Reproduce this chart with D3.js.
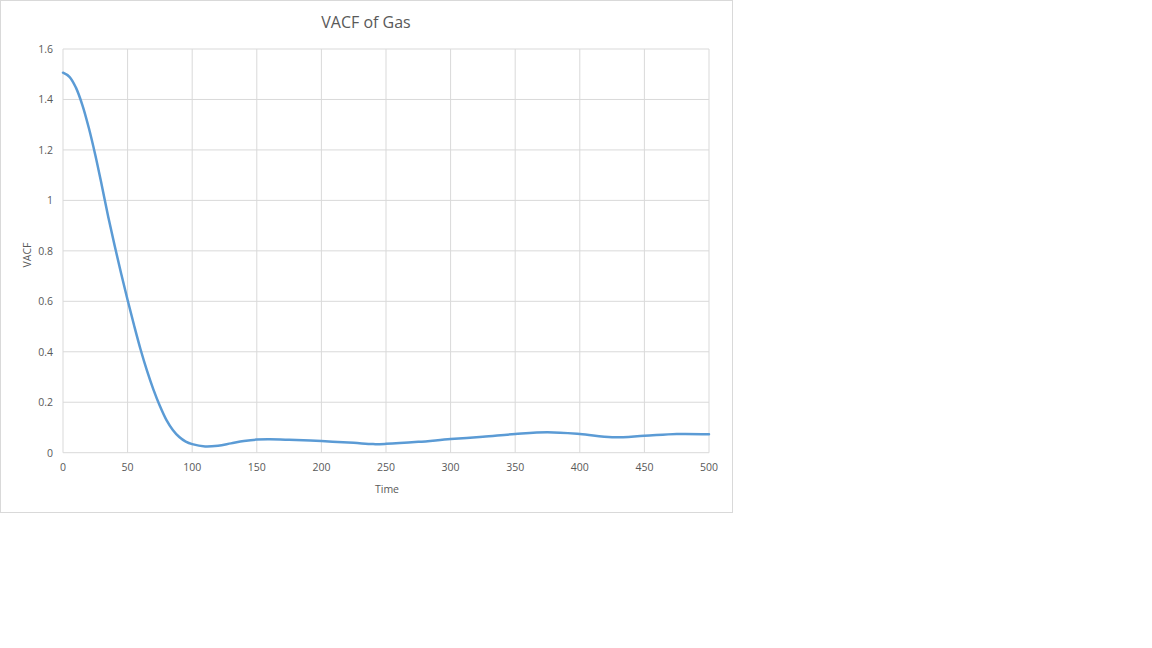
<!DOCTYPE html>
<html><head><meta charset="utf-8">
<script src="https://cdn.jsdelivr.net/npm/d3@7"></script>
<style>body{margin:0;background:#fff;} text{font-family:"Open Sans","Liberation Sans","DejaVu Sans",sans-serif;}</style>
</head><body><svg id="c" width="1152" height="648"></svg>
<script>
const time = [0,5,10,15,20,25,30,35,40,45,50,55,60,65,70,75,80,85,90,95,100,110,120,130,140,150,160,175,200,225,240,250,275,300,325,350,375,400,425,450,475,500];
const vacf = [1.506,1.49,1.447,1.378,1.287,1.18,1.06,0.935,0.82,0.71,0.605,0.505,0.41,0.325,0.25,0.185,0.13,0.09,0.062,0.044,0.034,0.025,0.028,0.037,0.046,0.052,0.053,0.051,0.046,0.039,0.034,0.035,0.043,0.054,0.063,0.074,0.081,0.074,0.061,0.067,0.074,0.073];
const xTicks = [0,50,100,150,200,250,300,350,400,450,500];
const yTicks = [0,0.2,0.4,0.6,0.8,1,1.2,1.4,1.6];

const svg = d3.select("#c");
svg.append("rect").attr("x",0.5).attr("y",0.5).attr("width",732).attr("height",512).attr("fill","#fff").attr("stroke","#d9d9d9");
const x = d3.scaleLinear().domain([0,500]).range([63,709]);
const y = d3.scaleLinear().domain([0,1.6]).range([452.7,49]);

svg.append("g").selectAll("line").data(xTicks).join("line")
  .attr("x1",d=>x(d)).attr("x2",d=>x(d)).attr("y1",y(1.6)).attr("y2",y(0))
  .attr("stroke","#d9d9d9").attr("stroke-width",1);
svg.append("g").selectAll("line").data(yTicks).join("line")
  .attr("x1",x(0)).attr("x2",x(500)).attr("y1",d=>y(d)).attr("y2",d=>y(d))
  .attr("stroke","#d9d9d9").attr("stroke-width",1);

svg.append("g").selectAll("text").data(xTicks).join("text")
  .attr("x",d=>x(d)).attr("y",471).attr("text-anchor","middle")
  .attr("font-size",10.5).attr("fill","#595959").text(d=>d);
svg.append("g").selectAll("text").data(yTicks).join("text")
  .attr("x",53).attr("y",d=>y(d)+4).attr("text-anchor","end")
  .attr("font-size",10.5).attr("fill","#595959").text(d=>d);

svg.append("path").datum(time.map((t,i)=>[t,vacf[i]]))
  .attr("d",d3.line().x(d=>x(d[0])).y(d=>y(d[1])).curve(d3.curveCatmullRom.alpha(0.5)))
  .attr("fill","none").attr("stroke","#5b9bd5").attr("stroke-width",2.5).attr("stroke-linecap","round");

svg.append("text").attr("x",366).attr("y",28).attr("text-anchor","middle")
  .attr("font-size",16).attr("fill","#595959").text("VACF of Gas");
svg.append("text").attr("x",387).attr("y",493).attr("text-anchor","middle")
  .attr("font-size",10.5).attr("fill","#595959").text("Time");
svg.append("text").attr("transform","translate(31,255) rotate(-90)").attr("text-anchor","middle")
  .attr("font-size",10.5).attr("fill","#595959").text("VACF");
</script></body></html>
